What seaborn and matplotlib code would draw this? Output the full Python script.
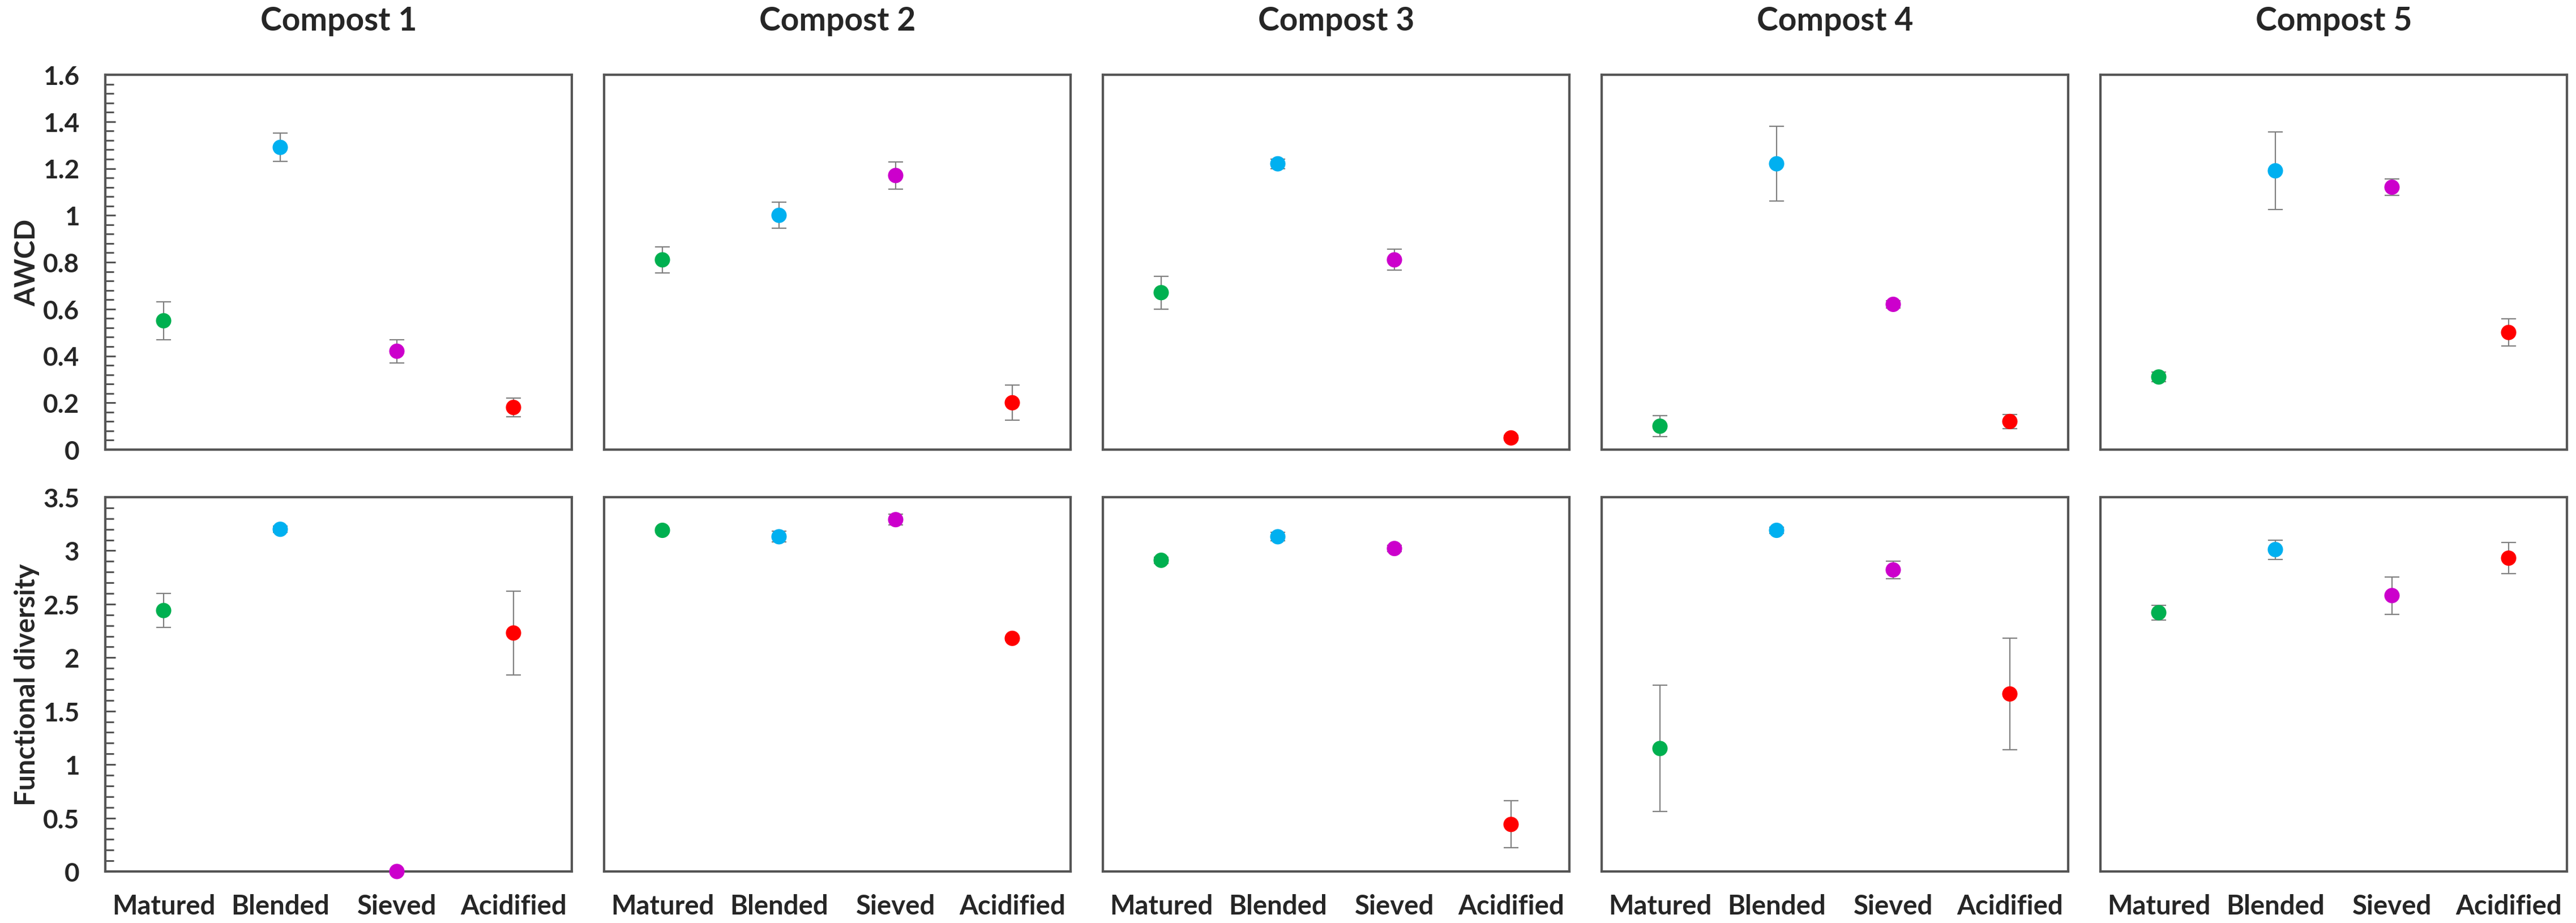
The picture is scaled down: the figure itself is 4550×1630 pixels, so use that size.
import numpy as np
import pandas as pd
import matplotlib
matplotlib.use("Agg")
import matplotlib.pyplot as plt
import seaborn as sns
from matplotlib.ticker import MultipleLocator

# ---------------- data ----------------
treatments = ["Matured", "Blended", "Sieved", "Acidified"]
composts = ["Compost 1", "Compost 2", "Compost 3", "Compost 4", "Compost 5"]
colors = ["#00B050", "#00B0F0", "#CC00CC", "#FF0000"]

awcd_c1 = [0.55, 1.29, 0.42, 0.18]
awcd_c1_err = [0.08, 0.06, 0.05, 0.04]
awcd_c2 = [0.81, 1.00, 1.17, 0.20]
awcd_c2_err = [0.055, 0.055, 0.058, 0.075]
awcd_c3 = [0.67, 1.22, 0.81, 0.05]
awcd_c3_err = [0.07, 0.02, 0.045, 0.01]
awcd_c4 = [0.10, 1.22, 0.62, 0.12]
awcd_c4_err = [0.045, 0.16, 0.015, 0.03]
awcd_c5 = [0.31, 1.19, 1.12, 0.50]
awcd_c5_err = [0.02, 0.165, 0.035, 0.058]

fd_c1 = [2.44, 3.20, 0.00, 2.23]
fd_c1_err = [0.16, 0.03, 0.00, 0.39]
fd_c2 = [3.19, 3.13, 3.29, 2.18]
fd_c2_err = [0.02, 0.05, 0.05, 0.02]
fd_c3 = [2.91, 3.13, 3.02, 0.44]
fd_c3_err = [0.03, 0.04, 0.03, 0.22]
fd_c4 = [1.15, 3.19, 2.82, 1.66]
fd_c4_err = [0.59, 0.03, 0.08, 0.52]
fd_c5 = [2.42, 3.01, 2.58, 2.93]
fd_c5_err = [0.07, 0.09, 0.175, 0.145]

awcd_means = [awcd_c1, awcd_c2, awcd_c3, awcd_c4, awcd_c5]
awcd_errs = [awcd_c1_err, awcd_c2_err, awcd_c3_err, awcd_c4_err, awcd_c5_err]
fd_means = [fd_c1, fd_c2, fd_c3, fd_c4, fd_c5]
fd_errs = [fd_c1_err, fd_c2_err, fd_c3_err, fd_c4_err, fd_c5_err]

awcd_ticks = [0, 0.2, 0.4, 0.6, 0.8, 1.0, 1.2, 1.4, 1.6]
awcd_ticklabels = ["0", "0.2", "0.4", "0.6", "0.8", "1", "1.2", "1.4", "1.6"]
fd_ticks = [0, 0.5, 1.0, 1.5, 2.0, 2.5, 3.0, 3.5]
fd_ticklabels = ["0", "0.5", "1", "1.5", "2", "2.5", "3", "3.5"]

# ---------------- style ----------------
sns.set_theme(style="white")
plt.rcParams["font.family"] = ["Lato", "DejaVu Sans"]
plt.rcParams["font.weight"] = "bold"

W, H, DPI = 4550, 1631, 100
fig = plt.figure(figsize=(W / DPI, H / DPI), dpi=DPI)
fig.patch.set_facecolor("white")

left0 = 186 / W
pitch = 881 / W
aw = 824 / W
rows = [
    (1 - 795 / H, (795 - 133) / H),   # top row (AWCD)
    (1 - 1540 / H, (1540 - 879) / H),  # bottom row (FD)
]
spine_col = "#555555"
err_col = "#808080"

for c in range(5):
    for r in range(2):
        b, h = rows[r]
        ax = fig.add_axes([left0 + c * pitch, b, aw, h])
        ax.set_facecolor("white")
        if r == 0:
            vals, errs = awcd_means[c], awcd_errs[c]
            ylim, ticks, tlabels, minor = (0, 1.6), awcd_ticks, awcd_ticklabels, 0.04
        else:
            vals, errs = fd_means[c], fd_errs[c]
            ylim, ticks, tlabels, minor = (0, 3.5), fd_ticks, fd_ticklabels, 0.1
        df = pd.DataFrame({"pos": np.arange(len(treatments)), "Treatment": treatments,
                           "value": vals, "err": errs})
        ax.errorbar(df["pos"], df["value"], yerr=df["err"], fmt="none",
                    ecolor=err_col, elinewidth=1.6, capsize=9.5, capthick=1.6,
                    zorder=2, clip_on=False)
        sns.scatterplot(data=df, x="pos", y="value", hue="Treatment",
                        palette=colors, hue_order=treatments, s=19.5 ** 2,
                        linewidth=0, legend=False, ax=ax, zorder=3, clip_on=False)
        ax.set_xlim(-0.5, 3.5)
        ax.set_ylim(*ylim)
        ax.set_xlabel("")
        ax.set_ylabel("")
        ax.set_xticks(df["pos"])
        if r == 1:
            ax.set_xticklabels(treatments, fontsize=34, fontweight="bold")
        else:
            ax.set_xticklabels([])
        ax.tick_params(axis="x", length=0, pad=28)
        if c == 0:
            ax.set_yticks(ticks)
            ax.set_yticklabels(tlabels, fontsize=33, fontweight="bold")
            ax.yaxis.set_minor_locator(MultipleLocator(minor))
            ax.tick_params(axis="y", which="major", direction="in", length=13,
                           width=2.2, color=spine_col, pad=33, left=True)
            ax.tick_params(axis="y", which="minor", direction="in", length=11,
                           width=2.2, color=spine_col, left=True)
            ax.set_ylabel("AWCD" if r == 0 else "Functional diversity",
                          fontsize=35, fontweight="bold", labelpad=4)
        else:
            ax.set_yticks([])
        for s in ax.spines.values():
            s.set_visible(True)
            s.set_color(spine_col)
            s.set_linewidth(3.0)
        if r == 0:
            ax.set_title(composts[c], fontsize=41, fontweight="bold", pad=57)

fig.savefig("out.png", dpi=DPI, facecolor="white")
